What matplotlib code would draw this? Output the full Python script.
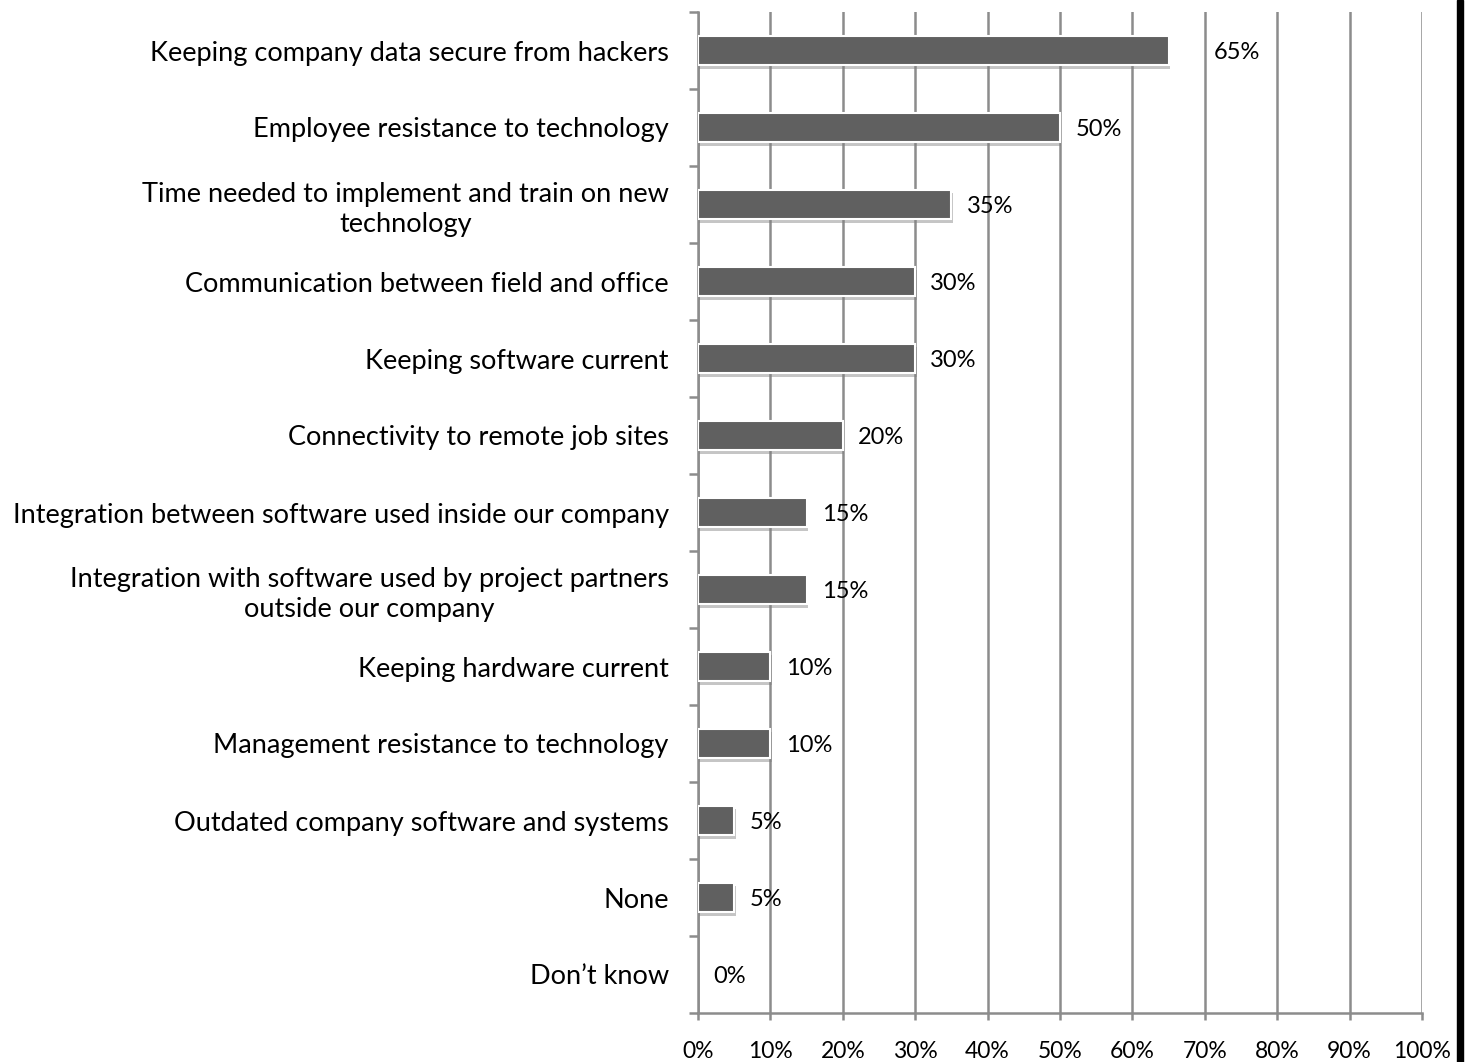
import matplotlib.pyplot as plt
import matplotlib.patheffects as pe
from matplotlib.patches import Rectangle
import numpy as np

# categories, top to bottom
categories = [
    'Keeping company data secure from hackers',
    'Employee resistance to technology',
    'Time needed to implement and train on new\ntechnology',
    'Communication between field and office',
    'Keeping software current',
    'Connectivity to remote job sites',
    'Integration between software used inside our company',
    'Integration with software used by project partners\noutside our company',
    'Keeping hardware current',
    'Management resistance to technology',
    'Outdated company software and systems',
    'None',
    'Don\u2019t know',
]
values = [65, 50, 35, 30, 30, 20, 15, 15, 10, 10, 5, 5, 0]
x_ticks = list(range(0, 101, 10))

plt.rcParams['font.family'] = ['Lato', 'DejaVu Sans']

fig = plt.figure(figsize=(14.73, 10.62), dpi=100)
ax = fig.add_axes([698 / 1473, 49 / 1062, 724 / 1473, 1001 / 1062])

y = np.arange(len(categories))
bars = ax.barh(y, values, height=0.38, color='#606060', edgecolor='white',
               linewidth=1.5, zorder=3)
for b, v in zip(bars, values):
    if v == 0:
        b.set_visible(False)
        continue
    b.set_path_effects([pe.SimplePatchShadow(offset=(1, -2.5), shadow_rgbFace='#808080', alpha=0.45),
                        pe.Normal()])

# data labels (the top one sits further out in the original)
for yi, v in zip(y, values):
    dx = 6.2 if v == max(values) else 2.1
    ax.text(v + dx, yi + 0.03, f'{v}%', va='center', ha='left', fontsize=17, zorder=4)

ax.set_xlim(0, 100)
ax.set_ylim(len(categories) - 0.5, -0.5)
ax.set_xticks(x_ticks)
ax.set_xticklabels([f'{t}%' for t in x_ticks], fontsize=16.5)
ax.set_yticks(y)
ax.set_yticklabels(categories, fontsize=19.5, multialignment='center', linespacing=1.25)
ax.set_yticks(np.arange(-0.5, len(categories), 1), minor=True)

ax.grid(axis='x', color='#8c8c8c', linewidth=1.8, zorder=0)
ax.set_axisbelow(True)
for s in ['top', 'right']:
    ax.spines[s].set_visible(False)
for s in ['left', 'bottom']:
    ax.spines[s].set_color('#8c8c8c')
    ax.spines[s].set_linewidth(1.8)

ax.tick_params(axis='y', which='major', length=0, pad=21)
ax.tick_params(axis='y', which='minor', length=6.5, width=1.8, color='#8c8c8c')
ax.tick_params(axis='x', which='major', length=5, width=1.8, color='#8c8c8c', pad=15)

# dark strip at the right edge of the image
fig.patches.append(Rectangle((1457 / 1473, 0), 6 / 1473, 1, transform=fig.transFigure,
                             color='black', zorder=10))

fig.savefig('out.png', dpi=100)
